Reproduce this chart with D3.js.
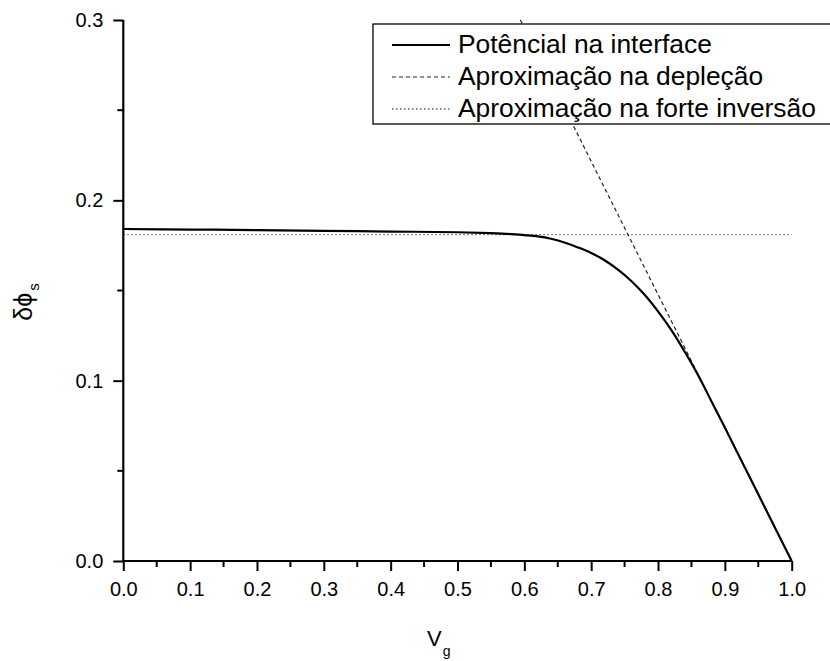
<!DOCTYPE html>
<html>
<head>
<meta charset="utf-8">
<script src="https://cdn.jsdelivr.net/npm/d3@7/dist/d3.min.js"></script>
<style>
  html, body { margin: 0; padding: 0; background: #fff; }
  svg { display: block; font-family: "Liberation Sans", Arial, sans-serif; }
</style>
</head>
<body>
<svg id="chart" width="830" height="661"></svg>
<script>
// Surface potential vs gate voltage
const vg = [0.00, 0.10, 0.20, 0.30, 0.40, 0.50, 0.55, 0.58, 0.60, 0.62, 0.64, 0.66, 0.68, 0.70, 0.72, 0.74, 0.76, 0.78, 0.80, 0.82, 0.84, 0.86, 0.88, 0.90, 0.925, 0.95, 0.975, 1.00];
const phiInterface = [0.1841, 0.1838, 0.1835, 0.1831, 0.1827, 0.1823, 0.1818, 0.1813, 0.1807, 0.1800, 0.1787, 0.1766, 0.1739, 0.1708, 0.1668, 0.1616, 0.1553, 0.1476, 0.1384, 0.1280, 0.1160, 0.1030, 0.0885, 0.0740, 0.0555, 0.0370, 0.0185, 0.0000];

// Depletion approximation (straight line) and strong inversion level
const depletionVg = [0.594, 1.00];
const depletionPhi = [0.300, 0.000];
const inversionVg = [0.00, 1.00];
const inversionPhi = [0.181, 0.181];

const xTicks = [0.0, 0.1, 0.2, 0.3, 0.4, 0.5, 0.6, 0.7, 0.8, 0.9, 1.0];
const yTicks = [0.0, 0.1, 0.2, 0.3];
const legendLabels = ["Potêncial na interface", "Aproximação na depleção", "Aproximação na forte inversão"];

const svg = d3.select("#chart");
const x = d3.scaleLinear().domain([0, 1]).range([123.3, 791.7]);
const y = d3.scaleLinear().domain([0, 0.3]).range([561, 20]);

const line = d3.line().x(d => x(d[0])).y(d => y(d[1]));

// Series
svg.append("path")
  .datum(inversionVg.map((v, i) => [v, inversionPhi[i]]))
  .attr("d", line).attr("fill", "none")
  .attr("stroke", "#666").attr("stroke-width", 1.3).attr("stroke-dasharray", "1.5,2.5");

svg.append("path")
  .datum(depletionVg.map((v, i) => [v, depletionPhi[i]]))
  .attr("d", line).attr("fill", "none")
  .attr("stroke", "#222").attr("stroke-width", 1.2).attr("stroke-dasharray", "4,3");

svg.append("path")
  .datum(vg.map((v, i) => [v, phiInterface[i]]))
  .attr("d", d3.line().x(d => x(d[0])).y(d => y(d[1])).curve(d3.curveCatmullRom))
  .attr("fill", "none")
  .attr("stroke", "#000").attr("stroke-width", 2.2);

// Axes
const fontSize = 20;
const xMinor = d3.range(0.05, 1, 0.1);
const yMinor = [0.05, 0.15, 0.25];

const gx = svg.append("g").attr("transform", `translate(0,${y(0)})`);
gx.call(d3.axisBottom(x).tickValues(xTicks).tickFormat(d3.format(".1f")).tickSize(10).tickPadding(11));
gx.append("g").selectAll("line").data(xMinor).join("line")
  .attr("x1", d => x(d)).attr("x2", d => x(d)).attr("y1", 0).attr("y2", 6)
  .attr("stroke", "#000").attr("stroke-width", 2);

const gy = svg.append("g").attr("transform", `translate(${x(0)},0)`);
gy.call(d3.axisLeft(y).tickValues(yTicks).tickFormat(d3.format(".1f")).tickSize(10).tickPadding(10));
gy.append("g").selectAll("line").data(yMinor).join("line")
  .attr("y1", d => y(d)).attr("y2", d => y(d)).attr("x1", 0).attr("x2", -6)
  .attr("stroke", "#000").attr("stroke-width", 2);

[gx, gy].forEach(g => {
  g.attr("font-size", fontSize).attr("font-family", "Liberation Sans, Arial, sans-serif");
  g.select(".domain").attr("stroke", "#000").attr("stroke-width", 2.2);
  g.selectAll(".tick line").attr("stroke", "#000").attr("stroke-width", 2);
  g.selectAll(".tick text").attr("fill", "#000");
});
gx.select(".domain").attr("d", `M${x(0)},0H${x(1)}`);
gy.select(".domain").attr("d", `M0,${y(0)}V${y(0.3)}`);

// Axis titles
const xt = svg.append("text").attr("x", 427).attr("y", 646)
  .attr("font-size", 22).attr("fill", "#000");
xt.append("tspan").text("V");
xt.append("tspan").attr("font-size", 14).attr("dy", 10).attr("dx", 1).text("g");

const yt = svg.append("text").attr("transform", "translate(32,302) rotate(-90)")
  .attr("text-anchor", "middle").attr("font-size", 25).attr("fill", "#000");
yt.append("tspan").text("δϕ");
yt.append("tspan").attr("font-size", 15).attr("dy", 7).attr("dx", 2).text("s");

// Legend
const lg = svg.append("g");
lg.append("rect").attr("x", 373).attr("y", 24).attr("width", 480).attr("height", 100)
  .attr("fill", "#fff").attr("stroke", "#000").attr("stroke-width", 1.3);
const legendStyles = [
  { stroke: "#000", width: 2.2, dash: null },
  { stroke: "#222", width: 1.2, dash: "4,3" },
  { stroke: "#666", width: 1.3, dash: "1.5,2.5" }
];
legendLabels.forEach((label, i) => {
  const base = 53 + i * 32;
  lg.append("line").attr("x1", 392).attr("x2", 450).attr("y1", base - 8).attr("y2", base - 8)
    .attr("stroke", legendStyles[i].stroke).attr("stroke-width", legendStyles[i].width)
    .attr("stroke-dasharray", legendStyles[i].dash);
  lg.append("text").attr("x", 458).attr("y", base).attr("font-size", 26.4)
    .attr("fill", "#000").text(label);
});
</script>
</body>
</html>
